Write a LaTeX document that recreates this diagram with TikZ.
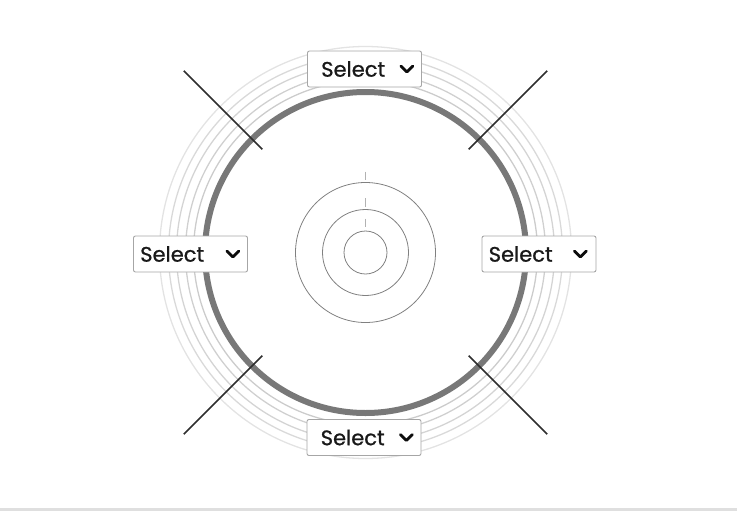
\documentclass[tikz,border=0pt]{standalone}
\usepackage{fontspec}
\newfontfamily\selfont{Poppins}[FakeBold=0.9]
\usetikzlibrary{positioning}
\begin{document}
\begin{tikzpicture}[x=1pt,y=-1pt]
\tikzstyle{selbox}=[draw=gray!70, fill=white, rounded corners=2pt, minimum width=114pt, minimum height=36pt, inner sep=0pt, line width=.9pt]
\tikzstyle{seltext}=[inner sep=0pt, text=black!90, font=\selfont\fontsize{21}{21}\selectfont]
\tikzstyle{chev}=[black!95, line width=2.8pt, line cap=round, line join=round]
\useasboundingbox (0,0) rectangle (737,512);
\fill[gray!25] (0,508) rectangle (737,511);
\coordinate (c) at (365.5,252.5);
\foreach \r/\o in {172/40,180/37,189/34,197/30,206/22}
  \draw[gray!\o, line width=1.3pt] (c) circle (\r);
\draw[black!53, line width=6pt] (c) circle (160.5);
\foreach \r in {21.5,43,70}
  \draw[black!50, line width=.8pt] (c) circle (\r);
\foreach \b in {81,54.5,34}
  \draw[black!30, line width=1pt] (c) ++(0,-\b) -- ++(0,8.5);
\foreach \a in {45,135,225,315}
  \draw[black!82, line width=1.7pt] (c) ++(\a:146) -- ++(\a:111);
\node[selbox] (sTop) at (364.5,69) {};
\node[seltext, right=14pt of sTop.west] (tTop) {Select};
\draw[chev] (sTop.east) ++(-21,-3) -- ++(6,6) -- ++(6,-6);
\node[selbox] (sBottom) at (364,437.5) {};
\node[seltext, right=14pt of sBottom.west] (tBottom) {Select};
\draw[chev] (sBottom.east) ++(-21,-3) -- ++(6,6) -- ++(6,-6);
\node[selbox] (sLeft) at (190.5,254) {};
\node[seltext, right=7pt of sLeft.west] (tLeft) {Select};
\draw[chev] (sLeft.east) ++(-21,-3) -- ++(6,6) -- ++(6,-6);
\node[selbox] (sRight) at (539,254) {};
\node[seltext, right=7pt of sRight.west] (tRight) {Select};
\draw[chev] (sRight.east) ++(-22,-3) -- ++(6,6) -- ++(6,-6);
\end{tikzpicture}
\end{document}
